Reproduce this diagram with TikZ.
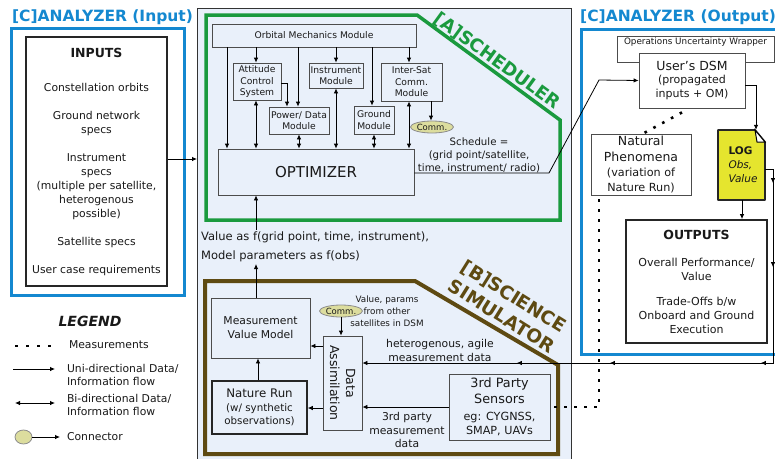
\documentclass[tikz,border=0pt]{standalone}
\usepackage{fontspec}
\setmainfont{DejaVu Sans}
\usetikzlibrary{arrows.meta,shapes.geometric,decorations.markings}

\definecolor{anblue}{HTML}{1488D0}
\definecolor{schgreen}{HTML}{1A9A3E}
\definecolor{simbrown}{HTML}{5E4A12}
\definecolor{panelbg}{HTML}{E9F0FA}
\definecolor{commfill}{HTML}{DCDD9E}
\definecolor{logyellow}{HTML}{E5E52E}

\begin{document}
\begin{tikzpicture}[x=1pt,y=-1pt,>={Latex[length=5pt,width=4.5pt]},
    modbox/.style={draw=black!70,line width=.8pt,inner sep=1pt,align=center,
        font=\fontsize{9.2}{11.5}\selectfont},
    thickbox/.style={draw=black!85,line width=1.8pt,align=center,inner sep=2pt},
    bigbox/.style={draw=black!70,line width=.8pt,fill=white,align=center,inner sep=1pt},
    commnode/.style={ellipse,draw=black!45,fill=commfill,line width=.8pt,inner sep=0pt,
        minimum width=37pt,minimum height=12pt,font=\fontsize{8.5}{9}\selectfont},
    flow/.style={line width=.8pt},
    measline/.style={line width=2.6pt,dash pattern=on 2.6pt off 7.4pt},
    txt/.style={align=center,inner sep=1pt},
    legtxt/.style={anchor=west,align=left,font=\fontsize{10.8}{13}\selectfont},
    antitle/.style={text=anblue,font=\fontsize{15.5}{18}\selectfont\bfseries},
    every node/.append style={text=black!90}]

    \useasboundingbox (0,0) rectangle (775,458);
    \clip (0,0) rectangle (775,458);
    \fill[white] (0,0) rectangle (775,458);

    % the panels
    \node[draw=black!80,line width=.8pt,fill=panelbg,minimum width=374pt,
      minimum height=462pt,anchor=north west,inner sep=0pt] (panel) at (197,8) {};

    % analyzer (input)
    \node[antitle] (intitle) at (102.5,17) {[C]ANALYZER (Input)};
    \node[draw=anblue,line width=3pt,minimum width=173pt,minimum height=267pt,
      anchor=north west,inner sep=0pt] (inbox) at (10,27) {};
    \node[thickbox,minimum width=141pt,minimum height=249pt,
      font=\fontsize{10.8}{14}\selectfont] (inputs) at (96.5,161.5)
      {{\fontsize{12.5}{14}\selectfont\bfseries INPUTS}\\[20pt]
       Constellation orbits\\[14pt] Ground network\\specs\\[14pt]
       Instrument\\specs\\(multiple per satellite,\\heterogenous\\possible)\\[14pt]
       Satellite specs\\[14pt] User case requirements};

    % scheduler
    \draw[schgreen,line width=3.5pt] (206,15) -- (417,15) -- (560,120)
      -- (560,220) -- (206,220) -- cycle;
    \node[rotate=-36,text=schgreen,font=\fontsize{18}{20}\selectfont\bfseries]
      (schtitle) at (497,61) {[A]SCHEDULER};
    \node[modbox,minimum width=204pt,minimum height=23pt] (omm) at (314,35.5)
      {Orbital Mechanics Module};
    \node[modbox,minimum width=48pt,minimum height=37pt] (acs) at (257,81.5)
      {Attitude\\Control\\System};
    \node[modbox,minimum width=60pt,minimum height=27pt] (pwr) at (299,120.5)
      {Power/ Data\\Module};
    \node[modbox,minimum width=54pt,minimum height=25pt] (ins) at (336,75.5)
      {Instrument\\Module};
    \node[modbox,minimum width=40pt,minimum height=28pt] (gnd) at (374,120)
      {Ground\\Module};
    \node[modbox,minimum width=61pt,minimum height=38pt] (isc) at (411.5,82)
      {Inter-Sat\\Comm.\\Module};
    \node[commnode] (comm1) at (432,127) {Comm.};
    \node[modbox,minimum width=196pt,minimum height=46pt,
      font=\fontsize{15}{18}\selectfont] (opt) at (316,172) {OPTIMIZER};
    \node[txt,font=\fontsize{10.2}{13}\selectfont] (sched) at (479,155)
      {Schedule =\\(grid point/satellite,\\time, instrument/ radio)};
    \node[anchor=west,align=left,inner sep=2pt,font=\fontsize{11.5}{14}\selectfont]
      (vlbl) at (199,247)
      {Value as f(grid point, time, instrument),\\[4.5pt]Model parameters as f(obs)};

    % science simulator
    \draw[simbrown,line width=4pt] (205,281) -- (415,281) -- (558,365)
      -- (558,454) -- (205,454) -- cycle;
    \node[rotate=-32,align=center,text=simbrown,
      font=\fontsize{18.5}{23}\selectfont\bfseries] (simtitle) at (508,306)
      {[B]SCIENCE\\SIMULATOR};
    \node[modbox,font=\fontsize{10.8}{14}\selectfont,minimum width=99pt,
      minimum height=60pt] (mvm) at (260.5,328) {Measurement\\Value Model};
    \node[thickbox,line width=1.5pt,minimum width=95pt,minimum height=53pt,
      font=\fontsize{10.3}{13.5}\selectfont] (nrun) at (259.5,407.5)
      {{\fontsize{11.8}{14}\selectfont Nature Run}\\(w/ synthetic\\observations)};
    \node[modbox,minimum width=39pt,minimum height=94pt] (da) at (342.5,383) {};
    \node[rotate=-90,align=center,inner sep=0pt,font=\fontsize{12.5}{16}\selectfont]
      (datxt) at (da.center) {Data\\Assimilation};
    \node[commnode] (comm2) at (341,311) {Comm.};
    \node[txt,font=\fontsize{8.8}{12}\selectfont] (plbl) at (387,311)
      {Value, params\\from other\\satellites in DSM};
    \node[modbox,minimum width=101pt,minimum height=66pt,
      font=\fontsize{12.8}{16.5}\selectfont] (sens) at (499.5,407)
      {3rd Party\\Sensors\\{\fontsize{11.2}{13.5}\selectfont eg: CYGNSS,}\\[-2pt]
       {\fontsize{11.2}{13.5}\selectfont SMAP, UAVs}};
    \node[txt,font=\fontsize{10.8}{13.5}\selectfont] (tplbl) at (407,430)
      {3rd party\\measurement\\data};
    \node[txt,font=\fontsize{10.8}{14}\selectfont] (hlbl) at (440,350)
      {heterogenous, agile\\measurement data};

    % analyzer (output)
    \node[antitle,anchor=west,inner sep=0pt] (outtitle) at (580,17)
      {[C]ANALYZER (Output)};
    \node[draw=anblue,line width=3pt,minimum width=210pt,minimum height=325pt,
      anchor=north west,inner sep=0pt] (outbox) at (580,28) {};
    \node[bigbox,minimum width=157pt,minimum height=26pt,
      label={[anchor=north,inner sep=2pt,font=\fontsize{8.8}{10}\selectfont]north:Operations Uncertainty Wrapper}]
      (ouw) at (695.5,49) {};
    \node[bigbox,minimum width=106pt,minimum height=55pt,
      font=\fontsize{11}{13.5}\selectfont] (dsm) at (692,80.5)
      {{\fontsize{12.5}{15}\selectfont User's DSM}\\(propagated\\inputs + OM)};
    \node[bigbox,minimum width=100pt,minimum height=61pt,
      font=\fontsize{12.5}{15.5}\selectfont] (natph) at (641,164.5)
      {Natural\\Phenomena\\{\fontsize{11.2}{14}\selectfont (variation of}\\[-1pt]
       {\fontsize{11.2}{14}\selectfont Nature Run)}};
    \draw[fill=logyellow,line width=1.8pt,draw=black!85,line join=round]
      (718,130) -- (755,130) -- (765,142) -- (765,200) -- (718,200) -- cycle;
    \draw[fill=white,line width=1pt] (755,130) -- (757,142) -- (765,142) -- cycle;
    \node[align=left,inner sep=0pt,minimum width=47pt,minimum height=70pt,
      text width=26pt,font=\fontsize{10.5}{14}\selectfont] (log) at (741.5,165)
      {\textbf{LOG}\\\textit{Obs,}\\\textit{Value}};
    \node[thickbox,minimum width=141pt,minimum height=123pt,fill=white,
      font=\fontsize{11}{14}\selectfont] (outp) at (696.5,281.5)
      {{\fontsize{12.5}{14}\selectfont\bfseries OUTPUTS}\\[13pt]Overall Performance/\\Value\\[11pt]
       Trade-Offs b/w\\Onboard and Ground\\Execution};

    % the connectors
    \draw[->,flow] (inputs.east |- 0,159) -- (panel.west |- 0,159);
    \foreach \x/\m in {227/opt,256/acs,298/pwr,336/ins,372/gnd,409/isc}
      \draw[->,flow] (\x,0 |- omm.south) -- (\x,0 |- \m.north);
    \foreach \x/\m in {256/acs,299/pwr,336/ins,374/gnd,409/isc}
      \draw[<->,flow] (\x,0 |- \m.south) -- (\x,0 |- opt.north);
    \draw[->,flow] (acs.east |- 0,83) -| (pwr.north -| 287,0);
    \draw[->,flow] (431,0 |- isc.south) -- (431,0 |- comm1.north);
    \draw[->,flow] (mvm.north -| 256,0) -- (vlbl.south -| 256,0);
    \draw[->,flow] (vlbl.north -| 256,0) -- (opt.south -| 256,0);
    \draw[->,flow] (nrun.north -| 258,0) -- (mvm.south -| 258,0);
    \draw[->,flow] (da.west |- 0,346) -- (mvm.east |- 0,346);
    \draw[->,flow] (da.west |- 0,408) -- (nrun.east |- 0,408);
    \draw[->,flow] (comm2.south) -- (comm2.south |- da.north);
    \draw[->,flow] (sens.west |- 0,407) -- (da.east |- 0,407);
    \draw[->,flow] (opt.east |- 0,173) -- (549,173) -- (599,80) -- (dsm.west);
    \draw[->,flow] (dsm.east |- 0,85) -| (756,0 |- log.north);
    \draw[->,flow] (742,0 |- log.south) -- (742,0 |- outp.north);
    \draw[measline] (682,0 |- dsm.south) ++(0,4) -- (643,0 |- natph.north);
    \draw[measline] (599,0 |- natph.south) ++(0,4) |- (sens.east);
    \draw[->,flow,postaction={decorate},decoration={markings,
        mark=at position 22pt with {\arrow{>}},
        mark=at position 106pt with {\arrow{>}},
        mark=at position 214pt with {\arrow{>}},
        mark=at position 365pt with {\arrow{>}},
        mark=at position 458pt with {\arrow{>}}}]
      (log.east |- 0,169) -- (773,169) -- (773,363) -- (da.east |- 0,363);

    % legend
    \node[font=\fontsize{14}{16}\selectfont\bfseries\itshape] (legend) at (90,321) {LEGEND};
    \coordinate (lm1) at (15,346);
    \coordinate (lm2) at (53,346);
    \draw[measline,dash pattern=on 3pt off 8pt] (lm1) -- (lm2);
    \node[legtxt] (lmtxt) at (65.5,345) {Measurements};
    \coordinate (lu1) at (13,369);
    \coordinate (lu2) at (55,369);
    \draw[->,flow] (lu1) -- (lu2);
    \node[legtxt] (lutxt) at (63.5,375) {Uni-directional Data/\\Information flow};
    \coordinate (lb1) at (15,403);
    \coordinate (lb2) at (55,403);
    \draw[<->,flow] (lb1) -- (lb2);
    \node[legtxt] (lbtxt) at (63.5,404.5) {Bi-directional Data/\\Information flow};
    \node[commnode,minimum width=17pt,minimum height=14pt] (lconn) at (23.5,437) {};
    \coordinate (lc2) at (60,437);
    \draw[->,flow] (lconn.east) -- (lc2);
    \node[legtxt] (lctxt) at (63.5,437) {Connector};
\end{tikzpicture}
\end{document}
